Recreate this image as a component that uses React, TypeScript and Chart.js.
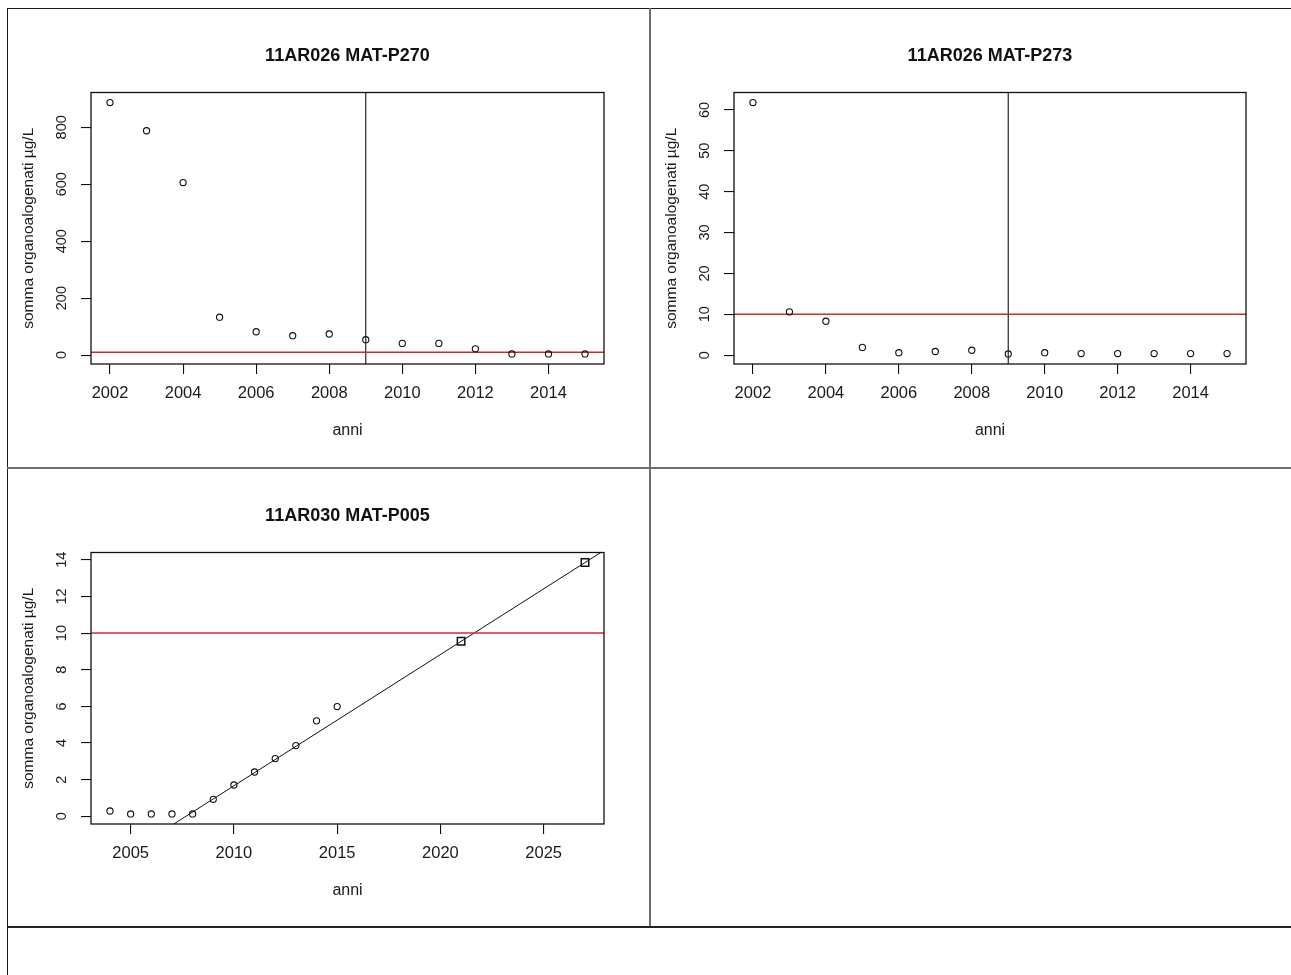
import React, { useEffect, useRef } from 'react';
import { Chart, registerables } from 'chart.js';

Chart.register(...registerables);

const FONT = "'Liberation Sans', Arial, Helvetica, sans-serif";

// ---- Panel 1: 11AR026 MAT-P270 ----
const p270Title = '11AR026 MAT-P270';
const p270Years = [2002, 2003, 2004, 2005, 2006, 2007, 2008, 2009, 2010, 2011, 2012, 2013, 2014, 2015];
const p270Values = [887, 788, 606, 133, 82, 68, 74, 54, 41, 41, 22, 4, 4, 4];
const p270XTicks = [2002, 2004, 2006, 2008, 2010, 2012, 2014];
const p270YTicks = [0, 200, 400, 600, 800];
const p270Marker = 2009;

// ---- Panel 2: 11AR026 MAT-P273 ----
const p273Title = '11AR026 MAT-P273';
const p273Years = [2002, 2003, 2004, 2005, 2006, 2007, 2008, 2009, 2010, 2011, 2012, 2013, 2014, 2015];
const p273Values = [61.8, 10.6, 8.3, 1.9, 0.6, 0.9, 1.2, 0.3, 0.6, 0.4, 0.4, 0.4, 0.4, 0.4];
const p273XTicks = [2002, 2004, 2006, 2008, 2010, 2012, 2014];
const p273YTicks = [0, 10, 20, 30, 40, 50, 60];
const p273Marker = 2009;

// ---- Panel 3: 11AR030 MAT-P005 ----
const p005Title = '11AR030 MAT-P005';
const p005Years = [2004, 2005, 2006, 2007, 2008, 2009, 2010, 2011, 2012, 2013, 2014, 2015];
const p005Values = [0.29, 0.13, 0.13, 0.13, 0.13, 0.93, 1.71, 2.42, 3.15, 3.86, 5.21, 5.99];
const p005ForecastYears = [2021, 2027];
const p005ForecastValues = [9.55, 13.85];
const p005XTicks = [2005, 2010, 2015, 2020, 2025];
const p005YTicks = [0, 2, 4, 6, 8, 10, 12, 14];

const threshold = 10;
const xAxisTitle = 'anni';
const yAxisTitle = 'somma organoalogenati µg/L';

function rRange(vals: number[]): [number, number] {
  const lo = Math.min(...vals);
  const hi = Math.max(...vals);
  const pad = (hi - lo) * 0.04;
  return [lo - pad, hi + pad];
}

const boxPlugin = {
  id: 'plotBox',
  afterDraw(chart: any) {
    const { ctx, chartArea } = chart;
    const { left, top, right, bottom } = chartArea;
    ctx.save();
    ctx.strokeStyle = '#111';
    ctx.lineWidth = 1.3;
    ctx.strokeRect(left, top, right - left, bottom - top);
    ctx.restore();
  },
};

type PanelProps = {
  title: string;
  years: number[];
  values: number[];
  xTicks: number[];
  yTicks: number[];
  marker?: number;
  forecastYears?: number[];
  forecastValues?: number[];
  left: number;
  top: number;
  width: number;
  height: number;
  padRight: number;
};

function Panel(p: PanelProps) {
  const ref = useRef<HTMLCanvasElement>(null);
  useEffect(() => {
    const canvas = ref.current;
    if (!canvas) return;
    const fy = p.forecastYears || [];
    const fv = p.forecastValues || [];
    const [xMin, xMax] = rRange([...p.years, ...fy]);
    const [yMin, yMax] = rRange([...p.values, ...fv]);

    const mctx = document.createElement('canvas').getContext('2d')!;
    mctx.font = `14.5px ${FONT}`;
    const widest = Math.max(...p.yTicks.map((v) => mctx.measureText(String(v)).width));
    const yPad = 19.5 - widest / 2;

    const datasets: any[] = [
      {
        label: 'osservati',
        data: p.years.map((x, i) => ({ x, y: p.values[i] })),
        showLine: false,
        pointStyle: 'circle',
        pointRadius: 3.1,
        pointBorderWidth: 1.1,
        pointBorderColor: '#111',
        pointBackgroundColor: 'rgba(0,0,0,0)',
      },
      {
        label: 'soglia',
        data: [
          { x: xMin, y: threshold },
          { x: xMax, y: threshold },
        ],
        showLine: true,
        borderColor: '#d02a2e',
        borderWidth: 1.5,
        pointRadius: 0,
      },
    ];
    if (p.marker !== undefined) {
      datasets.push({
        label: 'marker',
        data: [
          { x: p.marker, y: yMin },
          { x: p.marker, y: yMax },
        ],
        showLine: true,
        borderColor: '#111',
        borderWidth: 1.1,
        pointRadius: 0,
      });
    }
    if (fy.length === 2) {
      const slope = (fv[1] - fv[0]) / (fy[1] - fy[0]);
      const at = (x: number) => fv[0] + slope * (x - fy[0]);
      datasets.push({
        label: 'tendenza',
        data: [
          { x: xMin, y: at(xMin) },
          { x: xMax, y: at(xMax) },
        ],
        showLine: true,
        borderColor: '#111',
        borderWidth: 1,
        pointRadius: 0,
      });
      datasets.push({
        label: 'previsione',
        data: fy.map((x, i) => ({ x, y: fv[i] })),
        showLine: false,
        pointStyle: 'rect',
        pointRadius: 5.3,
        pointBorderWidth: 1.5,
        pointBorderColor: '#111',
        pointBackgroundColor: 'rgba(0,0,0,0)',
      });
    }

    const chart = new Chart(canvas, {
      type: 'scatter',
      data: { datasets },
      plugins: [boxPlugin],
      options: {
        responsive: false,
        animation: false,
        devicePixelRatio: 1,
        layout: { padding: { left: 0, top: 0, right: p.padRight, bottom: 0 } },
        plugins: {
          legend: { display: false },
          tooltip: { enabled: false },
          title: {
            display: true,
            text: p.title,
            fullSize: false,
            color: '#111',
            font: { family: FONT, size: 18, weight: 'bold', lineHeight: 1.2 },
            padding: { top: 36.4, bottom: 25.5 },
          },
        },
        scales: {
          x: {
            type: 'linear',
            min: xMin,
            max: xMax,
            afterBuildTicks: (s: any) => {
              s.ticks = p.xTicks.map((v) => ({ value: v }));
            },
            afterFit: (s: any) => {
              s.height = 103;
            },
            ticks: {
              callback: (v: any) => String(v),
              font: { family: FONT, size: 16.5 },
              color: '#1a1a1a',
              padding: 10,
              maxRotation: 0,
              autoSkip: false,
            },
            grid: { drawOnChartArea: false, drawTicks: true, tickLength: 10, color: '#111', lineWidth: 1.1 },
            border: { display: false },
            title: {
              display: true,
              text: xAxisTitle,
              color: '#1a1a1a',
              font: { family: FONT, size: 16, lineHeight: 1.2 },
              padding: { top: 0, bottom: 26.5 },
            },
          },
          y: {
            type: 'linear',
            min: yMin,
            max: yMax,
            afterBuildTicks: (s: any) => {
              s.ticks = p.yTicks.map((v) => ({ value: v }));
            },
            afterFit: (s: any) => {
              s.width = 83;
            },
            ticks: {
              callback: (v: any) => String(v),
              font: { family: FONT, size: 14.5 },
              color: '#1a1a1a',
              padding: yPad,
              minRotation: 90,
              maxRotation: 90,
              crossAlign: 'center',
              autoSkip: false,
            },
            grid: { drawOnChartArea: false, drawTicks: true, tickLength: 10, color: '#111', lineWidth: 1.1 },
            border: { display: false },
            title: {
              display: true,
              text: yAxisTitle,
              color: '#1a1a1a',
              font: { family: FONT, size: 15.5, lineHeight: 1.2 },
              padding: { top: 11, bottom: 0 },
            },
          },
        },
      } as any,
    });
    return () => chart.destroy();
  }, []);
  return (
    <canvas
      ref={ref}
      width={p.width}
      height={p.height}
      style={{ position: 'absolute', left: p.left, top: p.top, width: p.width, height: p.height, display: 'block' }}
    />
  );
}

const line = (left: number, top: number, width: number, height: number, color: string) => (
  <div style={{ position: 'absolute', left, top, width, height, background: color }} />
);

export default function App() {
  return (
    <div
      style={{
        position: 'absolute',
        left: 0,
        top: 0,
        width: 1291,
        height: 975,
        overflow: 'hidden',
        background: '#fff',
      }}
    >
      <Panel
        title={p270Title}
        years={p270Years}
        values={p270Values}
        xTicks={p270XTicks}
        yTicks={p270YTicks}
        marker={p270Marker}
        left={8}
        top={9}
        width={641}
        height={458}
        padRight={45}
      />
      <Panel
        title={p273Title}
        years={p273Years}
        values={p273Values}
        xTicks={p273XTicks}
        yTicks={p273YTicks}
        marker={p273Marker}
        left={651}
        top={9}
        width={640}
        height={458}
        padRight={45}
      />
      <Panel
        title={p005Title}
        years={p005Years}
        values={p005Values}
        xTicks={p005XTicks}
        yTicks={p005YTicks}
        forecastYears={p005ForecastYears}
        forecastValues={p005ForecastValues}
        left={8}
        top={469}
        width={641}
        height={458}
        padRight={45}
      />
      {line(7, 8, 1284, 1, '#1a1a1a')}
      {line(7, 8, 1, 967, '#1a1a1a')}
      {line(649, 8, 2, 920, '#6e6e6e')}
      {line(7, 467, 1284, 2, '#6e6e6e')}
      {line(7, 926, 1284, 2, '#222')}
    </div>
  );
}
